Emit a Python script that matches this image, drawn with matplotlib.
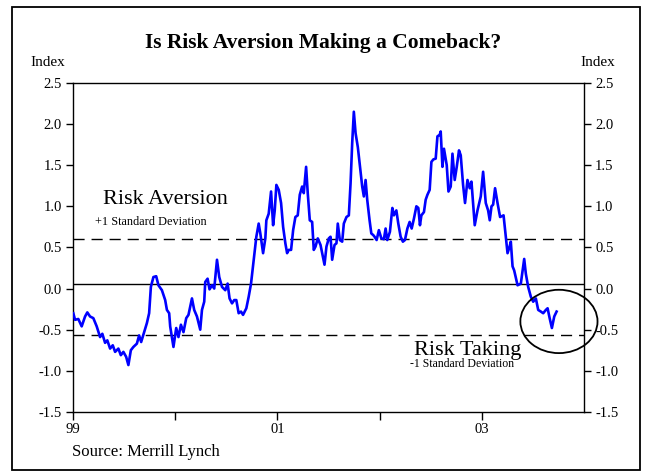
import matplotlib
matplotlib.use("Agg")
import matplotlib.pyplot as plt
from matplotlib.patches import Ellipse, Rectangle

plt.rcParams['font.family'] = ['Liberation Serif', 'DejaVu Serif']

# years since Jan 1999 and index readings
year_offsets = [
    0.003, 0.020, 0.052, 0.085, 0.118, 0.140, 0.167, 0.199, 0.232, 0.265,
    0.287, 0.314, 0.336, 0.363, 0.389, 0.412, 0.444, 0.468, 0.493, 0.520,
    0.542, 0.566, 0.591, 0.625, 0.647, 0.667, 0.696, 0.723, 0.745, 0.762,
    0.787, 0.814, 0.836, 0.870, 0.902, 0.919, 0.941,
    0.951, 0.983, 1.010, 1.032, 1.056, 1.081, 1.108, 1.130, 1.164, 1.186,
    1.213, 1.245, 1.262, 1.284, 1.294, 1.317, 1.336, 1.360, 1.382, 1.409,
    1.431, 1.458, 1.490, 1.513, 1.532, 1.556, 1.578, 1.598, 1.621, 1.644,
    1.664, 1.696, 1.719, 1.742, 1.768, 1.794, 1.817,
    1.833, 1.860, 1.882, 1.892, 1.915, 1.938, 1.958, 1.974, 1.990, 2.013,
    2.036, 2.056, 2.078, 2.095, 2.111, 2.134, 2.154, 2.176, 2.199, 2.219,
    2.242, 2.258, 2.281, 2.297, 2.317, 2.340, 2.356, 2.373, 2.395, 2.422,
    2.438, 2.461, 2.480, 2.503, 2.520, 2.536, 2.559, 2.578, 2.591, 2.611,
    2.634, 2.650, 2.676, 2.699, 2.716, 2.732, 2.748, 2.765, 2.787,
    2.814, 2.830, 2.846, 2.863, 2.879, 2.902, 2.919, 2.938, 2.951, 2.971,
    2.993, 3.017, 3.042, 3.059, 3.075, 3.101, 3.125, 3.140, 3.164, 3.183,
    3.206, 3.228, 3.248, 3.272, 3.294, 3.314, 3.336, 3.360, 3.379, 3.395,
    3.409, 3.434, 3.451, 3.468, 3.490, 3.507, 3.526, 3.549, 3.566, 3.588,
    3.598, 3.615, 3.630, 3.657, 3.674,
    3.696, 3.713, 3.735, 3.755, 3.777, 3.794, 3.817, 3.836, 3.860, 3.882,
    3.899, 3.931, 3.958, 3.990, 4.013, 4.039, 4.062, 4.078, 4.095, 4.111,
    4.130, 4.154, 4.179, 4.213, 4.235, 4.252, 4.272, 4.284, 4.301, 4.317,
    4.350, 4.382, 4.415, 4.431, 4.454, 4.480, 4.503, 4.529, 4.552, 4.578,
    4.601, 4.627, 4.644, 4.664, 4.686, 4.709, 4.732,
]
index_vals = [
    -0.30, -0.38, -0.37, -0.46, -0.34, -0.29, -0.34, -0.36, -0.46, -0.59,
    -0.55, -0.66, -0.63, -0.73, -0.69, -0.77, -0.73, -0.81, -0.77, -0.83,
    -0.93, -0.75, -0.71, -0.67, -0.57, -0.65, -0.53, -0.42, -0.30, 0.02,
    0.14, 0.15, 0.04, -0.02, -0.14, -0.26, -0.30,
    -0.46, -0.71, -0.48, -0.59, -0.44, -0.53, -0.36, -0.32, -0.12, -0.26,
    -0.34, -0.50, -0.26, -0.16, 0.08, 0.12, -0.01, 0.04, 0.00, 0.35,
    0.14, 0.02, -0.02, 0.06, -0.12, -0.18, -0.14, -0.14, -0.30, -0.28,
    -0.32, -0.24, -0.10, 0.06, 0.35, 0.63, 0.79,
    0.67, 0.43, 0.61, 0.83, 0.91, 1.18, 0.77, 0.95, 1.26, 1.20,
    1.04, 0.75, 0.55, 0.43, 0.47, 0.47, 0.71, 0.87, 0.89, 1.14,
    1.24, 1.16, 1.48, 1.16, 0.83, 0.81, 0.47, 0.51, 0.61, 0.53,
    0.43, 0.29, 0.51, 0.61, 0.63, 0.35, 0.53, 0.55, 0.79, 0.59,
    0.57, 0.79, 0.87, 0.89, 1.28, 1.77, 2.15, 1.89, 1.72,
    1.42, 1.24, 1.12, 1.32, 1.08, 0.83, 0.67, 0.65, 0.63, 0.59,
    0.71, 0.61, 0.60, 0.73, 0.59, 0.69, 0.98, 0.89, 0.95, 0.79,
    0.63, 0.57, 0.59, 0.73, 0.81, 0.73, 0.85, 1.00, 0.98, 0.77,
    0.89, 0.93, 1.08, 1.14, 1.20, 1.54, 1.57, 1.58, 1.85, 1.87,
    1.91, 1.48, 1.70, 1.50, 1.18,
    1.24, 1.64, 1.32, 1.48, 1.68, 1.62, 1.26, 1.04, 1.32, 1.22,
    1.30, 0.77, 0.95, 1.12, 1.42, 1.04, 0.95, 0.83, 1.00, 1.02,
    1.22, 1.04, 0.87, 0.89, 0.63, 0.43, 0.51, 0.57, 0.27, 0.22,
    0.04, 0.06, 0.36, 0.18, 0.02, -0.10, -0.16, -0.12, -0.26, -0.28,
    -0.30, -0.26, -0.24, -0.36, -0.48, -0.34, -0.28,
]
dates = [1999 + t for t in year_offsets]

mean_level = 0.06
upper_sd = 0.60
lower_sd = -0.56

fig = plt.figure(figsize=(6.46, 4.74), dpi=100)
ax = fig.add_axes([0.113, 0.131, 0.791, 0.694])

ax.plot(dates, index_vals, color='#0000ff', lw=1.9, zorder=3)
ax.axhline(mean_level, color='black', lw=1.0)
ax.axhline(upper_sd, color='black', lw=1.0, dashes=(8, 5))
ax.axhline(lower_sd, color='black', lw=1.0, dashes=(8, 5))

ax.set_xlim(1999, 2004)
ax.set_ylim(-1.5, 2.5)
yt = [-1.5, -1.0, -0.5, 0.0, 0.5, 1.0, 1.5, 2.0, 2.5]
ax.set_yticks(yt)
ax.set_yticklabels(['%.1f' % v for v in yt])
ax.set_xticks([1999, 2000, 2001, 2002, 2003])
ax.set_xticklabels(['99', '', '01', '', '03'])
ax.tick_params(axis='y', direction='out', length=5, width=1, labelsize=10.5,
               left=True, right=True, labelleft=True, labelright=True, pad=3)
ax.tick_params(axis='x', direction='out', length=6, width=1, labelsize=10.5, pad=2)
for s in ax.spines.values():
    s.set_linewidth(1.0)

# circled area
ax.add_patch(Ellipse((2003.755, -0.40), 0.755, 0.77, fill=False,
                     edgecolor='black', lw=1.3, clip_on=False, zorder=4))

ax.text(1999.29, 1.08, 'Risk Aversion', fontsize=16, va='center', ha='left')
ax.text(1999.215, 0.81, '+1 Standard Deviation', fontsize=8.8, va='center', ha='left')
ax.text(2002.34, -0.75, 'Risk Taking', fontsize=16, va='center', ha='left')
ax.text(2002.30, -0.92, '-1 Standard Deviation', fontsize=8.5, va='center', ha='left')

fig.text(0.50, 0.910, 'Is Risk Aversion Making a Comeback?', fontsize=15.5,
         fontweight='bold', ha='center', va='center')
fig.text(0.074, 0.868, 'Index', fontsize=11, ha='center', va='center')
fig.text(0.925, 0.868, 'Index', fontsize=11, ha='center', va='center')
fig.text(0.111, 0.046, 'Source: Merrill Lynch', fontsize=12, ha='left', va='center')

fig.patches.append(Rectangle((0.0186, 0.008), 0.972, 0.977, transform=fig.transFigure,
                             fill=False, edgecolor='black', lw=1.3))

fig.savefig('out.png', dpi=100)
